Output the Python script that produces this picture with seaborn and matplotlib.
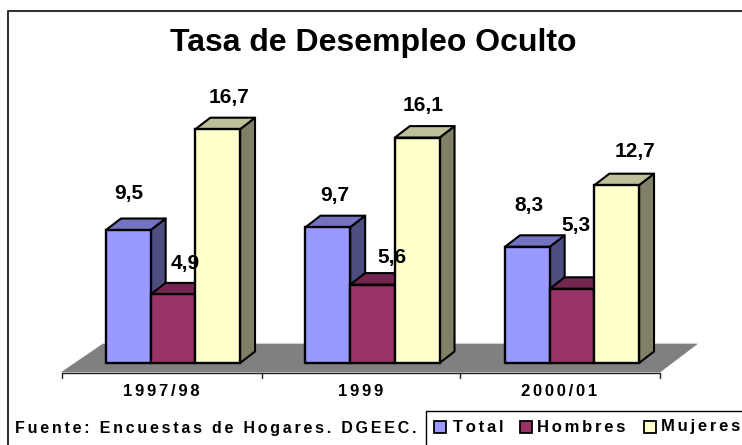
import matplotlib
matplotlib.use("Agg")
import matplotlib.pyplot as plt
from matplotlib.patches import Polygon, Rectangle
import pandas as pd
import seaborn as sns

categories = ["1997/98", "1999", "2000/01"]
series_names = ["Total", "Hombres", "Mujeres"]
total = [9.5, 9.7, 8.3]
hombres = [4.9, 5.6, 5.3]
mujeres = [16.7, 16.1, 12.7]
title = "Tasa de Desempleo Oculto"
source = "Fuente: Encuestas de Hogares. DGEEC."

front = ["#9999FF", "#993366", "#FFFFCC"]
side = ["#4D4D80", "#4D1A33", "#808066"]
top = ["#7373BF", "#732650", "#BFBF99"]

W, H = 742, 445
X0, DX = 173.0, 199.5      # pixel position of first group, group spacing
Y0, DY = 363.0, 14.0       # pixel position of baseline, pixels per unit
DEPTH_X, DEPTH_Y = 15.0, 11.5


def fx(px):
    return (px - X0) / DX


def fy(py):
    return (Y0 - py) / DY


df = pd.DataFrame({
    "periodo": categories * 3,
    "serie": sum([[s] * 3 for s in series_names], []),
    "valor": total + hombres + mujeres,
})

sns.set_theme(style="white", rc={"font.family": ["Liberation Sans", "DejaVu Sans"]})
plt.rcParams["font.family"] = ["Liberation Sans", "DejaVu Sans"]
fig = plt.figure(figsize=(W / 100, H / 100), dpi=100, facecolor="white")
ax = fig.add_axes([0, 0, 1, 1])

sns.barplot(
    data=df, x="periodo", y="valor", hue="serie", order=categories,
    hue_order=series_names, palette=front, saturation=1, width=0.672,
    edgecolor="black", linewidth=1.7, legend=False, ax=ax, zorder=5,
)
ax.set_xlim(fx(0), fx(W))
ax.set_ylim(fy(H), fy(0))
ax.axis("off")

# Floor of the 3-D box
ax.add_patch(Polygon(
    [(fx(62), fy(372)), (fx(660), fy(372)), (fx(697), fy(344)), (fx(103), fy(344))],
    closed=True, facecolor="#808080", edgecolor="#808080", lw=0.5, zorder=1))
ax.plot([fx(62), fx(660)], [fy(372.5)] * 2, color="#222222", lw=1, zorder=2, solid_capstyle="butt")
for px in [62, 262, 460, 660]:
    ax.plot([fx(px)] * 2, [fy(372.5), fy(378)], color="#222222", lw=1, zorder=2)

# Depth faces taken from each bar drawn by seaborn
ddx, ddy = DEPTH_X / DX, DEPTH_Y / DY
bars = [p for p in ax.patches if isinstance(p, Rectangle)]
for i, b in enumerate(bars):
    s = i // 3
    x0, x1, h = b.get_x(), b.get_x() + b.get_width(), b.get_height()
    z = 2 + s * 0.5
    ax.add_patch(Polygon([(x1, 0), (x1 + ddx, ddy), (x1 + ddx, h + ddy), (x1, h)],
                         closed=True, fc=side[s], ec="black", lw=1.5, zorder=z, joinstyle="round"))
    ax.add_patch(Polygon([(x0, h), (x0 + ddx, h + ddy), (x1 + ddx, h + ddy), (x1, h)],
                         closed=True, fc=top[s], ec="black", lw=1.5, zorder=z, joinstyle="round"))

# Title, frame
ax.text(fx(373), fy(43), title, ha="center", va="center", fontsize=23, fontweight="bold", color="black")
ax.plot([fx(W), fx(8), fx(8)], [fy(11), fy(11), fy(H)], color="#333333", lw=1.5, zorder=3)

# Value labels
values = [total[0], hombres[0], mujeres[0], total[1], hombres[1], mujeres[1], total[2], hombres[2], mujeres[2]]
label_px = [(129, 193), (185, 263), (229, 97), (335, 196), (392, 257), (423, 106), (529, 205), (576, 226), (635, 152)]
for v, (px, py) in zip(values, label_px):
    ax.text(fx(px), fy(py), f"{v:.1f}".replace(".", ","), ha="center", va="center",
            fontsize=15, fontweight="bold", color="black", zorder=8)


def spaced(s, sep="\u200a\u200a"):
    return sep.join(s)


# Category labels
for name, px in zip(categories, [161, 361, 559]):
    ax.text(fx(px), fy(392), spaced(name), ha="center", va="center", fontsize=12,
            fontweight="bold", color="black")

ax.text(fx(15), fy(429), spaced(source), ha="left", va="center", fontsize=11.5,
        fontweight="bold", color="black")

# Legend
ax.plot([fx(W), fx(426), fx(426)], [fy(411), fy(411), fy(H)], color="black", lw=1, zorder=3)
for name, fc, sx, tx in zip(series_names, front, [434, 520, 644], [453, 537, 661]):
    ax.add_patch(Rectangle((fx(sx), fy(433)), 12 / DX, 12 / DY, fc=fc, ec="black", lw=1.3, zorder=4))
    ax.text(fx(tx), fy(427), spaced(name), ha="left", va="center", fontsize=12,
            fontweight="bold", color="black")

fig.savefig("out.png", dpi=100)
